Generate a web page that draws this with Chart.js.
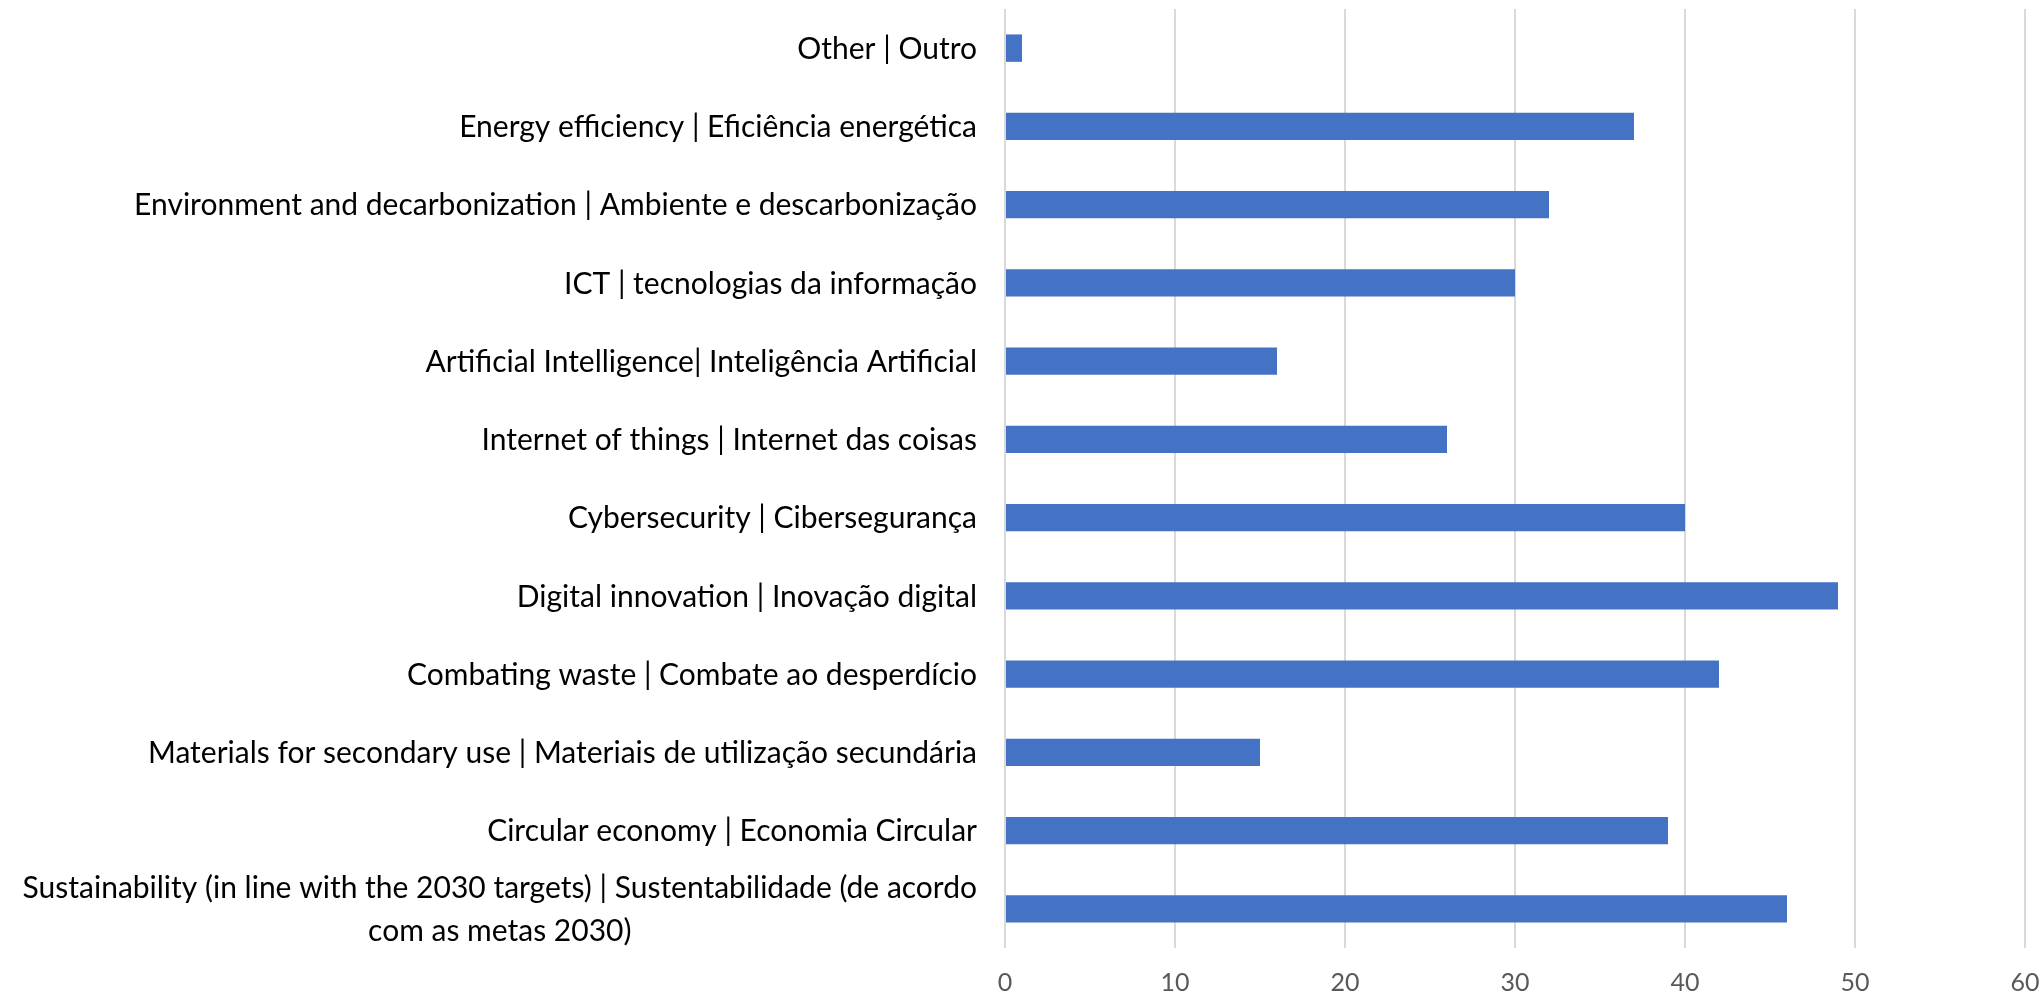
<!DOCTYPE html>
<html>
<head>
<meta charset="utf-8">
<script src="https://cdn.jsdelivr.net/npm/chart.js@4"></script>
<style>
  body { margin: 0; background: #fff; }
  canvas { display: block; }
</style>
</head>
<body>
<canvas id="topicsChart" width="2040" height="996"></canvas>
<script>
const categories = [
    ['Other | Outro'],
    ['Energy efficiency | Eficiência energética'],
    ['Environment and decarbonization | Ambiente e descarbonização'],
    ['ICT | tecnologias da informação'],
    ['Artificial Intelligence| Inteligência Artificial'],
    ['Internet of things | Internet das coisas'],
    ['Cybersecurity | Cibersegurança'],
    ['Digital innovation | Inovação digital'],
    ['Combating waste | Combate ao desperdício'],
    ['Materials for secondary use | Materiais de utilização secundária'],
    ['Circular economy | Economia Circular'],
    ['Sustainability (in line with the 2030 targets) | Sustentabilidade (de acordo', 'com as metas 2030)']
];
const counts = [1, 37, 32, 30, 16, 26, 40, 49, 42, 15, 39, 46];
const xTicks = [0, 10, 20, 30, 40, 50, 60];

const FONT = 'Lato, "Liberation Sans", sans-serif';

// y labels drawn by hand so multi-line label is centred on itself but right aligned as a block
const labelPlugin = {
    id: 'yLabels',
    afterDraw(chart) {
        const ctx = chart.ctx;
        const yScale = chart.scales.y;
        const right = chart.chartArea.left - 28;
        const lineH = 43;
        ctx.save();
        ctx.font = '30px ' + FONT;
        ctx.fillStyle = '#000000';
        ctx.textBaseline = 'middle';
        ctx.textAlign = 'center';
        categories.forEach((lines, i) => {
            const y = yScale.getPixelForValue(i) + 1;
            const widest = Math.max(...lines.map(l => ctx.measureText(l).width));
            const cx = right - widest / 2;
            const y0 = y - (lines.length - 1) * lineH / 2;
            lines.forEach((l, j) => ctx.fillText(l, cx, y0 + j * lineH));
        });
        ctx.restore();
    }
};

const ctx = document.getElementById('topicsChart').getContext('2d');
new Chart(ctx, {
    type: 'bar',
    data: {
        labels: categories.map(c => c.join(' ')),
        datasets: [{
            data: counts,
            backgroundColor: '#4472C4',
            barPercentage: 0.35,
            categoryPercentage: 1
        }]
    },
    options: {
        indexAxis: 'y',
        responsive: false,
        animation: false,
        layout: { padding: { top: 9, right: 15, bottom: 0, left: 0 } },
        plugins: {
            legend: { display: false },
            tooltip: { enabled: false }
        },
        scales: {
            x: {
                min: 0,
                max: 60,
                afterBuildTicks: s => { s.ticks = xTicks.map(v => ({ value: v })); },
                afterFit: s => { s.height = 48; s.paddingRight = 0; s.paddingLeft = 0; },
                grid: { color: '#d9d9d9', lineWidth: 2, drawTicks: false },
                border: { display: false },
                ticks: {
                    padding: 20,
                    color: '#595959',
                    font: { family: FONT, size: 25 }
                }
            },
            y: {
                grid: { display: false },
                border: { display: false },
                ticks: { display: false },
                afterFit: s => { s.width = 1005; }
            }
        }
    },
    plugins: [labelPlugin]
});
</script>
</body>
</html>
